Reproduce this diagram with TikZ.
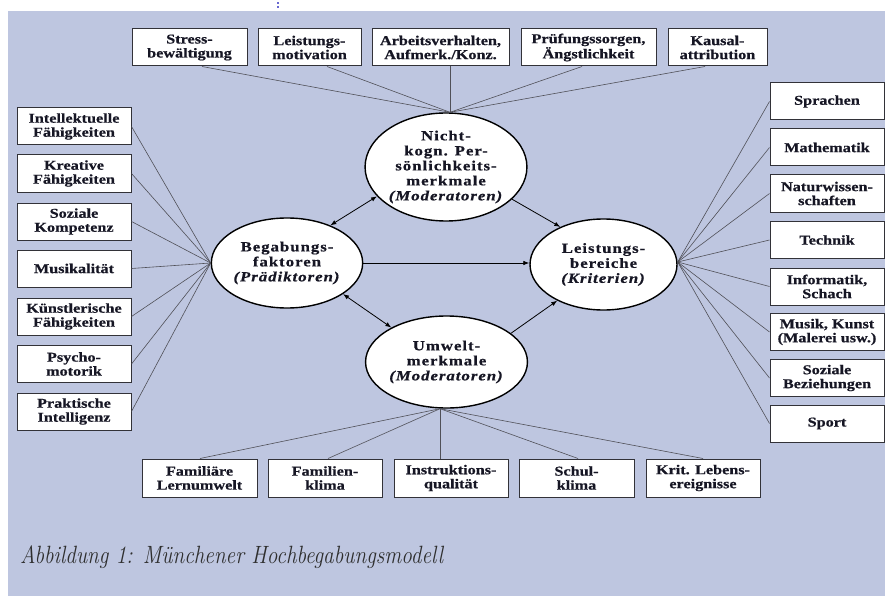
\documentclass[tikz,border=0pt]{standalone}
\usepackage{fontspec}
\setmainfont{Liberation Serif}[FakeStretch=1.2, FakeBold=0.6]
\newfontfamily\ovalfont{Liberation Serif}[FakeStretch=1.2, LetterSpace=7, FakeBold=0.6]
\usetikzlibrary{shapes.geometric,arrows.meta,calc}
\definecolor{panel}{RGB}{190,198,224}
\definecolor{ink}{RGB}{22,22,36}
\definecolor{wire}{RGB}{80,80,88}
\definecolor{frame}{RGB}{50,50,56}

\tikzset{
  factor/.style={draw=frame, line width=1pt, fill=white, inner sep=0pt,
    align=center, text=ink, font=\bfseries\fontsize{13.5}{14}\selectfont,
    minimum height=37pt},
  sidebox/.style={factor, minimum width=114pt},
  oval/.style={ellipse, draw=black, line width=1.4pt, fill=white, inner sep=0pt,
    align=center, text=ink, font=\ovalfont\bfseries\fontsize{14}{15}\selectfont},
  spoke/.style={draw=wire, line width=0.6pt},
  flow/.style={draw=black, line width=0.8pt, -{Latex[length=6pt,width=4.5pt]}},
  twoway/.style={draw=black, line width=0.8pt, {Latex[length=6pt,width=4.5pt]}-{Latex[length=6pt,width=4.5pt]}},
}

\begin{document}
\begin{tikzpicture}[x=1pt, y=-1pt]
  % page and panel
  \useasboundingbox (0,0) rectangle (885,596);
  \fill[white] (0,0) rectangle (885,596);
  \fill[panel] (8,11) rectangle (885,596);
  \node[text=blue!70!black, font=\fontsize{11}{11}\selectfont, inner sep=0pt] (dots) at (278,5) {:};

  % central ellipses
  \node[oval, minimum width=160pt, minimum height=108pt] (nk) at (446,167)
    {Nicht-\\kogn. Per-\\sönlichkeits-\\merkmale\\\textit{(Moderatoren)}};
  \node[oval, minimum width=148pt, minimum height=90pt] (beg) at (287,263)
    {Begabungs-\\faktoren\\\textit{(Prädiktoren)}};
  \node[oval, minimum width=147pt, minimum height=91pt] (leis) at (603.5,264.5)
    {Leistungs-\\bereiche\\\textit{(Kriterien)}};
  \node[oval, minimum width=151pt, minimum height=92pt] (umw) at (446.5,362)
    {Umwelt-\\merkmale\\\textit{(Moderatoren)}};

  % top row: non-cognitive personality traits
  \node[factor, minimum width=115pt] (t1) at (189.5,47.5) {Stress-\\bewältigung};
  \node[factor, minimum width=103pt] (t2) at (309.5,47.5) {Leistungs-\\motivation};
  \node[factor, minimum width=137pt] (t3) at (440.5,47.5) {Arbeitsverhalten,\\Aufmerk./Konz.};
  \node[factor, minimum width=135pt] (t4) at (588.5,47.5) {Prüfungssorgen,\\Ängstlichkeit};
  \node[factor, minimum width=99pt]  (t5) at (717.5,47.5) {Kausal-\\attribution};

  % left column: talent factors
  \node[sidebox] (l1) at (74,126.5) {Intellektuelle\\Fähigkeiten};
  \node[sidebox] (l2) at (74,173.5) {Kreative\\Fähigkeiten};
  \node[sidebox] (l3) at (74,221.5) {Soziale\\Kompetenz};
  \node[sidebox] (l4) at (74,268.5) {Musikalität};
  \node[sidebox] (l5) at (74,316.5) {Künstlerische\\Fähigkeiten};
  \node[sidebox] (l6) at (74,364) {Psycho-\\motorik};
  \node[sidebox] (l7) at (74,411.5) {Praktische\\Intelligenz};

  % right column: performance areas
  \node[sidebox] (r1) at (827,101.5) {Sprachen};
  \node[sidebox] (r2) at (827,147.5) {Mathematik};
  \node[sidebox] (r3) at (827,193.5) {Naturwissen-\\schaften};
  \node[sidebox] (r4) at (827,240) {Technik};
  \node[sidebox] (r5) at (827,286.5) {Informatik,\\Schach};
  \node[sidebox] (r6) at (827,332) {Musik, Kunst\\(Malerei usw.)};
  \node[sidebox] (r7) at (827,378) {Soziale\\Beziehungen};
  \node[sidebox] (r8) at (827,423.5) {Sport};

  % bottom row: environmental factors
  \node[factor, minimum width=115pt, minimum height=38pt] (b1) at (199.5,478) {Familiäre\\Lernumwelt};
  \node[factor, minimum width=114pt, minimum height=38pt] (b2) at (325,478) {Familien-\\klima};
  \node[factor, minimum width=114pt, minimum height=38pt] (b3) at (451,478) {Instruktions-\\qualität};
  \node[factor, minimum width=115pt, minimum height=38pt] (b4) at (576.5,478) {Schul-\\klima};
  \node[factor, minimum width=114pt, minimum height=38pt] (b5) at (703,478) {Krit. Lebens-\\ereignisse};

  % spoke hubs on the ellipses
  \coordinate (topHub) at ($(nk.north)+(4,0)$);
  \coordinate (botHub) at ($(umw.south)+(-6.5,0)$);

  % spokes
  \draw[spoke] ($(t1.south)+(12.5,0)$) -- (topHub);
  \draw[spoke] ($(t2.south)+(17.5,0)$) -- (topHub);
  \draw[spoke] ($(t3.south)+(9.5,0)$) -- (topHub);
  \draw[spoke] ($(t4.south)+(-6.5,0)$) -- (topHub);
  \draw[spoke] ($(t5.south)+(-12.5,0)$) -- (topHub);
  \foreach \n in {l1,l2,l3,l4,l5,l6,l7} \draw[spoke] (\n.east) -- (beg.west);
  \foreach \n in {r1,r2,r3,r4,r5,r6,r7,r8} \draw[spoke] (\n.west) -- ($(leis.east)+(0,-2.5)$);
  \draw[spoke] ($(b1.north)+(0.5,0)$) -- (botHub);
  \draw[spoke] ($(b2.north)+(3,0)$) -- (botHub);
  \draw[spoke] ($(b3.north)+(-11,0)$) -- (botHub);
  \draw[spoke] ($(b4.north)+(1.5,0)$) -- (botHub);
  \draw[spoke] (b5.north) -- (botHub);

  % relations between the constructs
  \draw[twoway] (beg.41) -- (nk.203);
  \draw[flow] (nk.334) -- (leis.139);
  \draw[flow] (beg.east) -- (beg.east -| leis.west);
  \draw[twoway] (beg.331) -- (umw.148);
  \draw[flow] (umw.24) -- (leis.218);

  % caption
  \node[anchor=base west, inner sep=0pt, text=black!82] (caption) at (20,563)
    {\scalebox{0.85}[1]{\fontspec{Latin Modern Roman}\itshape\fontsize{25}{25}\selectfont Abbildung 1: Münchener Hochbegabungsmodell}};
\end{tikzpicture}
\end{document}
